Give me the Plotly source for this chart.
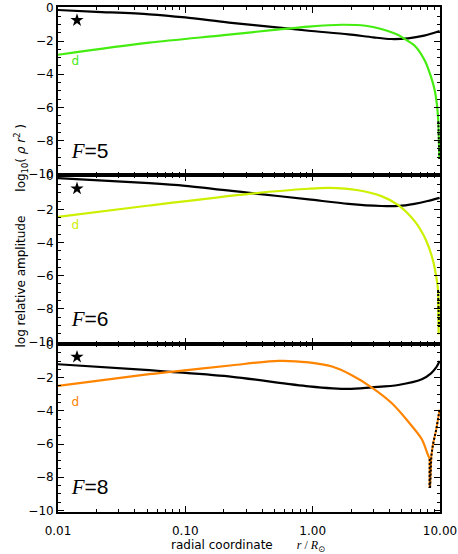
import plotly.graph_objects as go
from plotly.subplots import make_subplots

# ---------------- data ----------------
panel_labels = ["5", "6", "8"]
mode_colors = ["#44ec10", "#ccf000", "#ff8400"]

# F = 5
p1_black_r = [0.01, 0.02, 0.052, 0.1, 0.22, 0.57, 0.93, 1.91, 3.0, 4.14, 5.6, 7.5, 9.93]
p1_black_v = [-0.13, -0.24, -0.39, -0.58, -0.89, -1.21, -1.38, -1.60, -1.78, -1.88, -1.84, -1.68, -1.40]
p1_mode_r = [0.01, 0.052, 0.2, 0.5, 0.93, 1.69, 2.6, 3.46, 4.7, 5.14, 6.3, 7.59, 8.5, 9.08, 9.47, 9.7]
p1_mode_v = [-2.83, -2.10, -1.65, -1.33, -1.13, -1.02, -1.08, -1.28, -1.64, -1.82, -2.27, -3.17, -4.16, -4.95, -5.85, -6.84]
p1_dot_r = [9.7, 9.8, 9.88]
p1_dot_v = [-6.84, -8.0, -9.12]

# F = 6
p2_black_r = [0.01, 0.052, 0.1, 0.356, 0.93, 1.91, 3.46, 4.7, 6.3, 8.0, 9.93]
p2_black_v = [-0.12, -0.42, -0.58, -1.05, -1.40, -1.67, -1.80, -1.80, -1.67, -1.50, -1.31]
p2_mode_r = [0.01, 0.052, 0.33, 0.93, 1.33, 2.28, 3.5, 4.7, 6.3, 7.8, 8.81, 9.3, 9.64, 9.7, 9.76]
p2_mode_v = [-2.46, -1.77, -1.05, -0.76, -0.71, -0.85, -1.22, -1.74, -2.70, -3.89, -5.08, -5.97, -6.86, -8.2, -9.54]
p2_dot_r = [9.66, 9.74, 9.82]
p2_dot_v = [-6.86, -8.0, -9.1]

# F = 8
p3_black_r = [0.01, 0.052, 0.077, 0.234, 0.93, 1.91, 2.9, 4.7, 7.2, 8.5, 9.3, 9.93]
p3_black_v = [-1.19, -1.55, -1.65, -1.95, -2.52, -2.68, -2.58, -2.44, -2.10, -1.74, -1.40, -0.99]
p3_mode_r = [0.01, 0.052, 0.077, 0.234, 0.54, 0.93, 1.42, 2.03, 2.9, 4.17, 5.6, 7.2, 8.0, 8.3]
p3_mode_v = [-2.50, -1.79, -1.65, -1.25, -0.99, -1.08, -1.33, -1.85, -2.58, -3.53, -4.63, -5.71, -6.61, -6.90]
p3_dot_r = [8.3, 8.28, 8.36, 8.55, 8.81, 9.35, 9.93]
p3_dot_v = [-6.90, -8.59, -8.59, -6.71, -6.01, -5.12, -3.93]

star_r = 0.0141
star_v = -0.75
d_label_r = 0.0137
d_label_v = [-3.27, -2.98, -3.51]
f_label_r = 0.0128
f_label_v = -8.72

x_tick_vals = [0.01, 0.1, 1, 10]
x_tick_text = ["0.01", "0.10", "1.00", "10.00"]
y_tick_vals = [0, -2, -4, -6, -8, -10]

panels = [
    (p1_black_r, p1_black_v, p1_mode_r, p1_mode_v, p1_dot_r, p1_dot_v),
    (p2_black_r, p2_black_v, p2_mode_r, p2_mode_v, p2_dot_r, p2_dot_v),
    (p3_black_r, p3_black_v, p3_mode_r, p3_mode_v, p3_dot_r, p3_dot_v),
]

FONT = "DejaVu Sans"
SERIF = "Liberation Serif"

# ---------------- figure ----------------
fig = make_subplots(rows=3, cols=1, shared_xaxes=True, vertical_spacing=0)

for i, (br, bv, mr, mv, dr, dv) in enumerate(panels):
    row = i + 1
    col = mode_colors[i]
    fig.add_trace(go.Scatter(x=br, y=bv, mode="lines",
                             line=dict(color="black", width=2.2, shape="spline", smoothing=0.8),
                             showlegend=False, hoverinfo="skip"), row=row, col=1)
    fig.add_trace(go.Scatter(x=mr, y=mv, mode="lines",
                             line=dict(color=col, width=2.2, shape="spline", smoothing=0.8),
                             showlegend=False, hoverinfo="skip"), row=row, col=1)
    # dotted continuation (alternating colour / black)
    fig.add_trace(go.Scatter(x=dr, y=dv, mode="lines",
                             line=dict(color=col, width=2),
                             showlegend=False, hoverinfo="skip"), row=row, col=1)
    fig.add_trace(go.Scatter(x=dr, y=dv, mode="lines",
                             line=dict(color="black", width=2, dash="2px,2px"),
                             showlegend=False, hoverinfo="skip"), row=row, col=1)
    # star marker
    fig.add_trace(go.Scatter(x=[star_r], y=[star_v], mode="markers",
                             marker=dict(symbol="star", size=10, color="black"),
                             showlegend=False, hoverinfo="skip"), row=row, col=1)
    # "d" label
    fig.add_trace(go.Scatter(x=[d_label_r], y=[d_label_v[i]], mode="text", text=["d"],
                             textfont=dict(family=FONT, size=12, color=col),
                             showlegend=False, hoverinfo="skip"), row=row, col=1)
    # F label
    fig.add_trace(go.Scatter(x=[f_label_r], y=[f_label_v], mode="text",
                             text=[f'<span style="font-family:{SERIF}"><i>F</i></span>=' + panel_labels[i]],
                             textposition="middle right",
                             textfont=dict(family="Liberation Sans", size=21, color="black"),
                             showlegend=False, hoverinfo="skip"), row=row, col=1)

minor_x = [m * 10 ** e for e in (-2, -1, 0) for m in range(2, 10)]

for row in (1, 2, 3):
    fig.update_xaxes(type="log", range=[-2, 1], tickvals=x_tick_vals, ticktext=x_tick_text,
                     ticks="inside", ticklen=6, tickwidth=1.3, tickcolor="black",
                     minor=dict(tickvals=minor_x, ticks="inside", ticklen=3, tickwidth=1.1, tickcolor="black"),
                     showline=True, linecolor="black", linewidth=1.8, mirror="allticks",
                     showgrid=False, zeroline=False,
                     showticklabels=(row == 3), ticklabelstandoff=7, ticklabeloverflow="allow",
                     tickfont=dict(family=FONT, size=12, color="black"),
                     row=row, col=1)
    fig.update_yaxes(range=[-10.1, 0.05], tickvals=y_tick_vals,
                     ticks="inside", ticklen=6, tickwidth=1.3, tickcolor="black",
                     minor=dict(dtick=0.5, ticks="inside", ticklen=3, tickwidth=1.1, tickcolor="black"),
                     showline=True, linecolor="black", linewidth=1.8, mirror="allticks",
                     showgrid=False, zeroline=False,
                     tickfont=dict(family=FONT, size=12, color="black"),
                     row=row, col=1)

SP = "\u2003"
fig.add_annotation(xref="paper", yref="paper", x=-0.125, y=0.548, textangle=-90,
                   text=f"log relative amplitude{SP}{SP}log<sub>10</sub>( <i>ρ</i> <i>r</i><sup>2</sup> )",
                   showarrow=False, font=dict(family=FONT, size=12, color="black"))
fig.add_annotation(xref="paper", yref="paper", x=0.497, y=-0.068, yanchor="middle",
                   text=f'radial coordinate{SP}{SP}<span style="font-family:{SERIF}"><i>r</i> / <i>R</i></span><sub>⊙</sub>',
                   showarrow=False, font=dict(family=FONT, size=12, color="black"))

fig.update_layout(width=458, height=554, margin=dict(l=58, r=16, t=1, b=42),
                  plot_bgcolor="white", paper_bgcolor="white")

fig.write_html("out.html", config={"displayModeBar": False},
               post_script="document.body.style.margin='0';document.body.style.padding='0';")
